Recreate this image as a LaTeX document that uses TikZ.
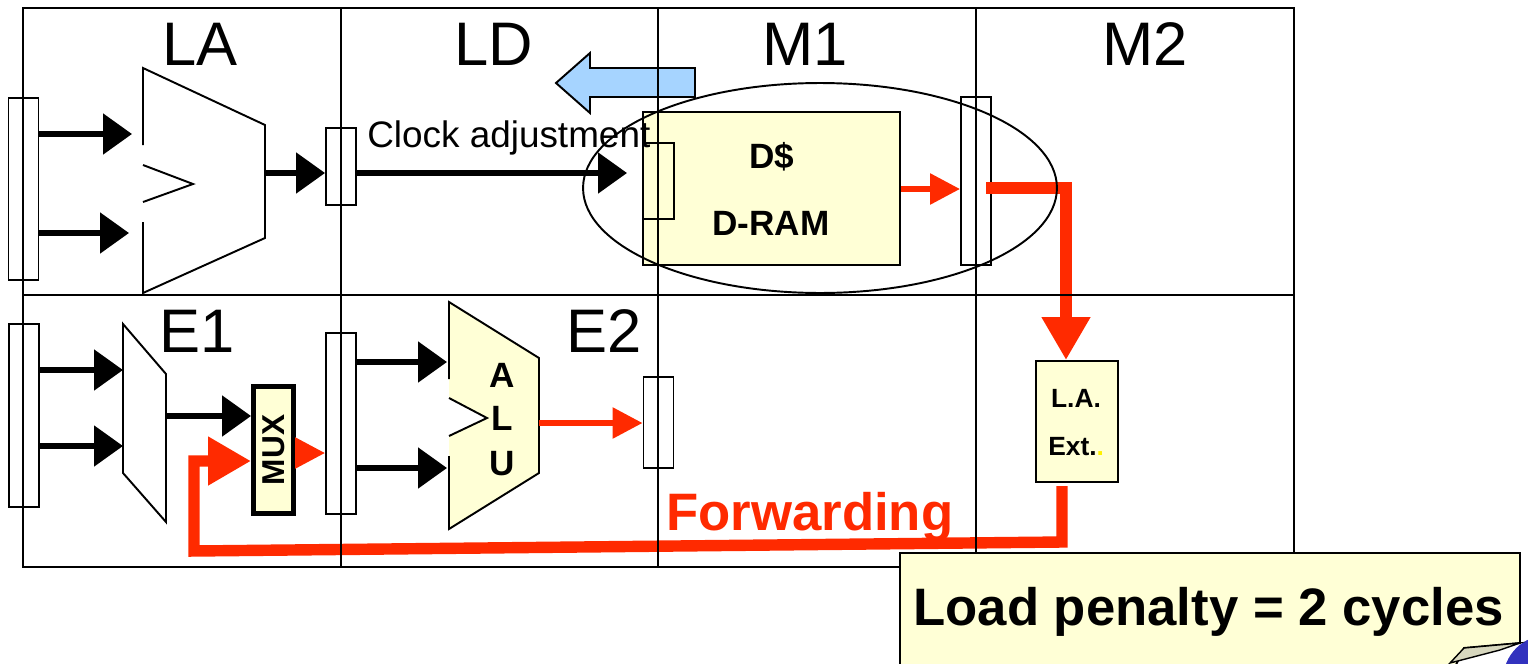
\documentclass[tikz,border=0pt]{standalone}
\usepackage{fontspec}
\setmainfont{Liberation Sans}
\usetikzlibrary{arrows.meta,shapes.geometric}
\definecolor{padyellow}{RGB}{255,255,214}
\definecolor{fwdred}{RGB}{255,42,0}
\definecolor{skyarrow}{RGB}{166,212,255}
\definecolor{logoblue}{RGB}{50,50,190}
\definecolor{foldgray}{RGB}{215,215,190}
\tikzset{
  grid/.style={line width=1.1pt},
  reg/.style={draw, line width=1.1pt, fill=white, minimum width=0.6cm, inner sep=0pt},
  pad/.style={draw, line width=1.1pt, fill=padyellow, inner sep=0pt},
  blk/.style={line width=3pt, -{Triangle[length=0.58cm,width=0.8cm]}},
  redthin/.style={fwdred, line width=3.3pt, -{Triangle[length=0.6cm,width=0.6cm]}},
  redthick/.style={fwdred, line width=6.5pt, line join=miter, -{Triangle[length=0.86cm,width=0.92cm]}},
  stage/.style={anchor=base, inner sep=0pt, font=\fontsize{35}{40}\selectfont},
  boldtxt/.style={anchor=base, inner sep=0pt, font=\bfseries\fontsize{20}{24}\selectfont},
}

\begin{document}
\begin{tikzpicture}[x=0.02cm, y=-0.02cm]
  \useasboundingbox (0,0) rectangle (1528,663);

  % Logo corner behind the note
  \fill[logoblue] (1548,680) circle [radius=0.9cm];

  % Clock adjustment arrow
  \draw[line width=1.1pt, fill=skyarrow] (695,68) -- (590,68) -- (590,53) -- (556,83)
    -- (590,113) -- (590,97) -- (695,97) -- cycle;

  % Stage labels
  \node[stage] (labLA) at (200,65) {LA};
  \node[stage] (labLD) at (494,65) {LD};
  \node[stage] (labM1) at (805,65) {M1};
  \node[stage] (labM2) at (1145,65) {M2};
  \node[stage] (labE1) at (197,352) {E1};
  \node[stage] (labE2) at (604,352) {E2};

  % Pipeline registers
  \node[reg, minimum height=3.64cm] (regLA) at (23.5,189) {};
  \node[reg, minimum height=1.54cm] (regLD) at (341,166.5) {};
  \node[reg, minimum height=3.36cm] (regM) at (976,181) {};
  \node[reg, minimum height=3.66cm] (regE1) at (24,415.5) {};
  \node[reg, minimum height=3.62cm] (regE2) at (341,423.5) {};
  \node[reg, minimum height=1.82cm] (regWB) at (658.5,422.5) {};

  % Address adder (LA)
  \coordinate (laIn1) at (132,134);
  \coordinate (laIn2) at (129,233);
  \coordinate (laOut) at (265,173);
  \fill[white] (143,68) -- (265,125) -- (265,238) -- (143,293) -- (143,202) -- (193,184) -- (143,165) -- cycle;
  \draw[line width=1.1pt] (143,145) -- (143,68) -- (265,125) -- (265,238) -- (143,293) -- (143,222);
  \draw[line width=1.1pt] (143,165) -- (193,184) -- (143,202);

  % Data cache
  \node[pad, minimum width=5.14cm, minimum height=3.06cm] (dram) at (771.5,188.5) {};
  \node[draw, line width=1.1pt, minimum width=0.62cm, minimum height=1.52cm] (regM1) at (658.5,181) {};
  \node[boldtxt] (dcache) at (772,168) {D\$};
  \node[boldtxt] (dramTxt) at (771,235) {D-RAM};
  \coordinate (memIn) at (627,173);

  % E1 unit and mux
  \coordinate (e1In1) at (123,370);
  \coordinate (e1In2) at (123,446);
  \coordinate (e1Out) at (166,416);
  \draw[line width=1.1pt, fill=white] (123,324) -- (166,374) -- (166,522) -- (123,473) -- cycle;
  \node[draw, line width=2.8pt, fill=padyellow, minimum width=0.8cm, minimum height=2.54cm] (mux) at (273.5,450) {};
  \node[rotate=90, inner sep=0pt, font=\bfseries\fontsize{18}{20}\selectfont] (muxTxt) at (274,450) {MUX};

  % ALU
  \coordinate (aluIn1) at (447,362);
  \coordinate (aluIn2) at (447,468);
  \coordinate (aluOut) at (539,423);
  \fill[padyellow] (449,302) -- (539,358) -- (539,473) -- (449,529) -- (449,436) -- (487,418) -- (449,398) -- cycle;
  \draw[line width=1.1pt] (449,379) -- (449,302) -- (539,358) -- (539,473) -- (449,529) -- (449,456);
  \draw[line width=1.1pt] (449,398) -- (487,418) -- (449,436);
  \node[boldtxt] (aluA) at (502,387) {A};
  \node[boldtxt] (aluL) at (502,430) {L};
  \node[boldtxt] (aluU) at (502,475) {U};

  % Load align / extend
  \node[pad, minimum width=1.64cm, minimum height=2.42cm] (laExt) at (1077,421.5) {};
  \node[anchor=base, inner sep=0pt, font=\bfseries\fontsize{15}{18}\selectfont] (laTxt) at (1076,407) {L.A.};
  \node[anchor=base west, inner sep=0pt, font=\bfseries\fontsize{15}{18}\selectfont] (extTxt) at (1048,455) {Ext.\textcolor{yellow}{.}};

  % Black data paths
  \draw[blk] (regLA.east |- laIn1) -- (laIn1);
  \draw[blk] (regLA.east |- laIn2) -- (laIn2);
  \draw[blk] (laOut) -- (regLD.west |- laOut);
  \draw[blk] (regLD.east |- laOut) -- (memIn);
  \draw[blk] (regE1.east |- e1In1) -- (e1In1);
  \draw[blk] (regE1.east |- e1In2) -- (e1In2);
  \draw[blk] (e1Out) -- (mux.west |- e1Out);
  \draw[blk] (regE2.east |- aluIn1) -- (aluIn1);
  \draw[blk] (regE2.east |- aluIn2) -- (aluIn2);

  % Red data paths
  \draw[redthin] (dram.east |- 0,189) -- (regM.west |- 0,189);
  \draw[redthin] (aluOut) -- (regWB.west |- aluOut);
  \draw[redthin] (mux.east |- 0,453) -- (regE2.west |- 0,453);

  % Load result to L.A. Ext.
  \coordinate (memTap) at (986,188);
  \coordinate (memBend) at (1066,188);
  \draw[redthick] (memTap) -- (memBend) -- (memBend |- laExt.north);

  % Forwarding path
  \coordinate (fwdA) at (1062,486);
  \coordinate (fwdB) at (1062,542);
  \coordinate (fwdC) at (194,551);
  \coordinate (fwdD) at (194,461);
  \draw[redthick] (fwdA) -- (fwdB) -- (fwdC) -- (fwdD) -- (mux.west |- fwdD);
  \node[anchor=base west, inner sep=0pt, text=fwdred, font=\bfseries\fontsize{30}{32}\selectfont] (fwdLabel) at (666,530) {Forwarding};

  % Stage grid
  \draw[grid] (23,8) rectangle (1294,567);
  \draw[grid] (23,295) -- (1294,295);
  \foreach \x in {341,658,976}
    \draw[grid] (\x,8) -- (\x,567);

  % Memory stage outline
  \node[draw, ellipse, line width=1.1pt, minimum width=9.48cm, minimum height=4.2cm] (memZone) at (820,188) {};
  \node[anchor=base west, inner sep=0pt, font=\fontsize{21}{24}\selectfont] (clkAdj) at (367,147) {Clock adjustment};

  % Penalty note
  \draw[line width=1.1pt, fill=padyellow] (900,690) -- (900,553) -- (1520,553) -- (1520,643) -- (1464,648) -- (1444,690);
  \draw[line width=0.8pt, fill=foldgray] (1520,643) -- (1464,648) -- (1450,663) -- (1500,650) -- cycle;
  \node[anchor=base west, inner sep=0pt, font=\bfseries\fontsize{30}{34}\selectfont] (penalty) at (913,625) {Load penalty = 2 cycles};
\end{tikzpicture}
\end{document}
